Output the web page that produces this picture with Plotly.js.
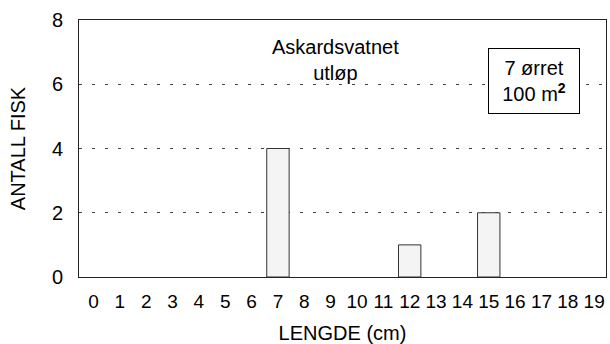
<!DOCTYPE html>
<html>
<head>
<meta charset="utf-8">
<script src="https://cdn.plot.ly/plotly-3.0.1.min.js"></script>
<style>html,body{margin:0;padding:0;background:#fff;}#chart{width:610px;height:344px;}</style>
</head>
<body>
<div id="chart"></div>
<script>
const lengths = ['0','1','2','3','4','5','6','7','8','9','10','11','12','13','14','15','16','17','18','19'];
const counts = [0,0,0,0,0,0,0,4,0,0,0,0,1,0,0,2,0,0,0,0];
const yTicks = [0,2,4,6,8];
const siteLabel = 'Askardsvatnet<br>utløp';
const densityLabel = '7 ørret<br>100 m<sup><b>2</b></sup>';
const xTitle = 'LENGDE (cm)';
const yTitle = 'ANTALL FISK';

const font = 'Liberation Sans, Arial, sans-serif';

const trace = {
  type: 'bar',
  x: lengths,
  y: counts,
  width: 0.85,
  marker: {color: '#f4f4f4', line: {color: '#333', width: counts.map(v => v > 0 ? 1 : 0)}},
  hoverinfo: 'none'
};

const layout = {
  width: 610, height: 344,
  margin: {l: 79, r: 4, t: 20, b: 67},
  paper_bgcolor: '#fff', plot_bgcolor: '#fff',
  showlegend: false,
  font: {family: font, size: 20, color: '#000'},
  xaxis: {
    type: 'category',
    range: [-0.55, 19.45],
    showgrid: false, zeroline: false,
    showline: true, linecolor: '#222', linewidth: 1, mirror: true,
    ticks: '', ticklabelstandoff: 7,
    tickfont: {family: font, size: 19, color: '#000'},
    title: {text: xTitle, standoff: 16, font: {family: font, size: 20, color: '#000'}}
  },
  yaxis: {
    range: [0, 8],
    tickvals: yTicks,
    showgrid: true, gridcolor: '#444', gridwidth: 1, griddash: '3px,10px',
    zeroline: false,
    showline: true, linecolor: '#222', linewidth: 1, mirror: true,
    ticks: '', ticklabelstandoff: 11,
    tickfont: {family: font, size: 20, color: '#000'},
    title: {text: yTitle, standoff: 20, font: {family: font, size: 20, color: '#000'}}
  },
  annotations: [
    {xref: 'paper', yref: 'paper', x: 0.486, y: 0.844, text: siteLabel,
     showarrow: false, xanchor: 'center', yanchor: 'middle',
     font: {family: font, size: 20, color: '#000'}},
    {xref: 'paper', yref: 'paper', x: 0.864, y: 0.763, text: densityLabel,
     showarrow: false, xanchor: 'center', yanchor: 'middle',
     width: 88, height: 62, bgcolor: '#fff',
     bordercolor: '#000', borderwidth: 1, borderpad: 1,
     font: {family: font, size: 20, color: '#000'}}
  ]
};

Plotly.newPlot('chart', [trace], layout, {displayModeBar: false, staticPlot: true});
</script>
</body>
</html>
